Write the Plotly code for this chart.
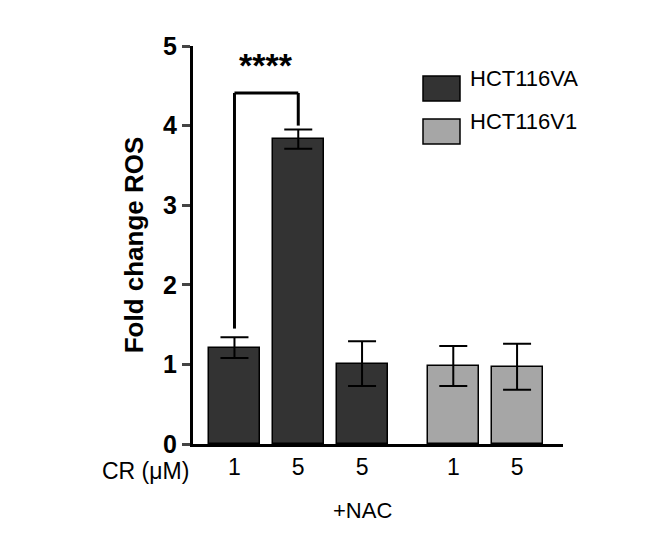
import plotly.graph_objects as go

x_pos = [1, 2, 3, 4.43, 5.43]
tick_labels = ["1", "5", "5", "1", "5"]
values = [1.21, 3.83, 1.01, 0.98, 0.97]
errors = [0.13, 0.12, 0.28, 0.25, 0.29]
colors = ["#333333", "#333333", "#333333", "#a6a6a6", "#a6a6a6"]
legend_names = ["HCT116VA", "HCT116V1"]
legend_colors = ["#333333", "#a6a6a6"]

fig = go.Figure(go.Bar(
    x=x_pos, y=values, width=0.8,
    marker=dict(color=colors, line=dict(color="black", width=1.5)),
    error_y=dict(type="data", array=errors, color="black", thickness=2, width=14),
    showlegend=False))

font = "Liberation Sans, Arial"
fig.add_shape(type="line", x0=x_pos[0], x1=x_pos[0], y0=1.45, y1=4.41, line=dict(color="black", width=3))
fig.add_shape(type="line", x0=x_pos[0], x1=x_pos[1], y0=4.41, y1=4.41, line=dict(color="black", width=3))
fig.add_shape(type="line", x0=x_pos[1], x1=x_pos[1], y0=4.41, y1=4.0, line=dict(color="black", width=3))
fig.add_annotation(x=1.5, y=4.5, text="<b>****</b>", showarrow=False, font=dict(size=34, family=font), yanchor="bottom")

for i, (n, c) in enumerate(zip(legend_names, legend_colors)):
    y0 = (443 - 100 - 43 * i) / 398
    y1 = (443 - 75 - 43 * i) / 398
    fig.add_shape(type="rect", xref="paper", yref="paper", x0=(415 - 185) / 370, x1=(452 - 185) / 370,
                  y0=y0, y1=y1, fillcolor=c, line=dict(color="black", width=1.5))
    fig.add_annotation(xref="paper", yref="paper", x=(460 - 185) / 370, y=(y0 + y1) / 2, text=n,
                       showarrow=False, xanchor="left", yanchor="middle", yshift=10,
                       font=dict(size=22, family=font, color="black"))

fig.add_annotation(xref="paper", yref="paper", x=(183 - 185) / 370, y=-12 / 398, text="CR (μM)",
                   showarrow=False, xanchor="right", yanchor="top", font=dict(size=23, family=font, color="black"))
fig.add_annotation(x=x_pos[2], yref="paper", y=-52 / 398, text="+NAC",
                   showarrow=False, yanchor="top", font=dict(size=22, family=font, color="black"))

fig.update_layout(
    width=658, height=539, margin=dict(l=185, r=103, t=38, b=103),
    plot_bgcolor="white", paper_bgcolor="white", bargap=0,
    font=dict(family=font, color="black"),
    xaxis=dict(range=[0.35, 6.15], tickvals=x_pos, ticktext=tick_labels, showline=True,
               linecolor="black", linewidth=3, ticks="", tickfont=dict(size=23), showgrid=False, zeroline=False,
               ticklabelstandoff=0),
    yaxis=dict(range=[0, 5], dtick=1, showline=True, linecolor="black", linewidth=3, ticks="outside",
               ticklen=8, tickwidth=3, tickfont=dict(size=25, family=font), showgrid=False, zeroline=False,
               title=dict(text="<b>Fold change ROS</b>", font=dict(size=26), standoff=12),
               tickprefix="<b>", ticksuffix="</b>"),
)
fig.write_html("out.html")
